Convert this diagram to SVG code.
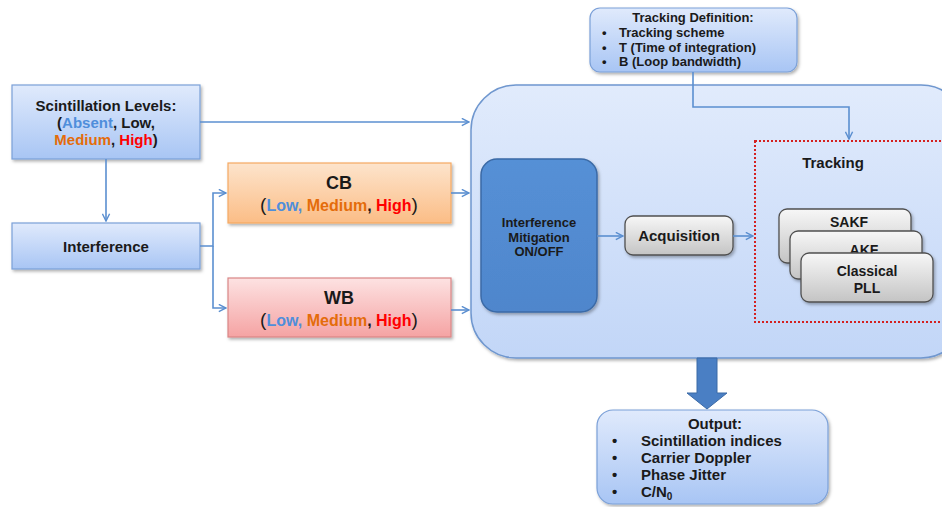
<svg xmlns="http://www.w3.org/2000/svg" width="942" height="507" viewBox="0 0 942 507">
<defs>
<linearGradient id="gBlue" x1="0" y1="0" x2="0" y2="1"><stop offset="0" stop-color="#e0eafc"/><stop offset="1" stop-color="#a8c5f4"/></linearGradient>
<linearGradient id="gMain" x1="0" y1="0" x2="0" y2="1"><stop offset="0" stop-color="#e1ebfc"/><stop offset="1" stop-color="#c2d6f7"/></linearGradient>
<linearGradient id="gOrange" x1="0" y1="0" x2="0" y2="1"><stop offset="0" stop-color="#fde4cc"/><stop offset="1" stop-color="#fbbd86"/></linearGradient>
<linearGradient id="gRed" x1="0" y1="0" x2="0" y2="1"><stop offset="0" stop-color="#fde2e2"/><stop offset="1" stop-color="#f5a3a3"/></linearGradient>
<linearGradient id="gGray" x1="0" y1="0" x2="0" y2="1"><stop offset="0" stop-color="#f7f7f7"/><stop offset="1" stop-color="#c4c4c4"/></linearGradient>
<linearGradient id="gDark" x1="0" y1="0" x2="0" y2="1"><stop offset="0" stop-color="#5590d6"/><stop offset="1" stop-color="#4f86cc"/></linearGradient>
<filter id="sh" x="-10%" y="-10%" width="130%" height="130%"><feDropShadow dx="1.5" dy="2" stdDeviation="1.5" flood-color="#000" flood-opacity="0.3"/></filter>
<marker id="ah" viewBox="0 0 10 10" refX="9" refY="5" markerWidth="9" markerHeight="9" markerUnits="userSpaceOnUse" orient="auto"><path d="M1,1 L9,5 L1,9" fill="none" stroke="#5b8fd0" stroke-width="1.6"/></marker>
</defs>
<style>
text{font-family:"Liberation Sans",Arial,sans-serif;font-weight:bold;fill:#1a1a1a}
.c{text-anchor:middle}
.s15{font-size:15px}
.s14{font-size:14px}
.s13{font-size:13px}
.s16{font-size:16px}
.blue{fill:#4f8edb}
.org{fill:#e46c0a}
.red{fill:#ff0000}
.ln{fill:none;stroke:#5b8fd0;stroke-width:1.6}
</style>

<g id="main-box">
<rect x="471" y="85" width="495" height="273" rx="45" fill="url(#gMain)" stroke="#6f97cf" stroke-width="1.5" filter="url(#sh)"/>
</g>

<g id="tracking-definition">
<rect x="590" y="8" width="207" height="64" rx="10" fill="url(#gBlue)" stroke="#7ba0d8" stroke-width="1.2" filter="url(#sh)"/>
<text class="c s13" x="693" y="22">Tracking Definition:</text>
<text class="s13" x="602" y="37">•</text><text class="s13" x="619" y="37">Tracking scheme</text>
<text class="s13" x="602" y="51.5">•</text><text class="s13" x="619" y="51.5">T (Time of integration)</text>
<text class="s13" x="602" y="66">•</text><text class="s13" x="619" y="66">B (Loop bandwidth)</text>
</g>

<g id="scintillation">
<rect x="12" y="85" width="188" height="74" fill="url(#gBlue)" stroke="#7ba0d8" stroke-width="1.2" filter="url(#sh)"/>
<text class="c s15" x="106" y="111">Scintillation Levels:</text>
<text class="c s15" x="106" y="128">(<tspan class="blue">Absent</tspan>, Low,</text>
<text class="c s15" x="106" y="145"><tspan class="org">Medium</tspan>, <tspan class="red">High</tspan>)</text>
</g>

<g id="interference">
<rect x="12" y="223" width="188" height="46" fill="url(#gBlue)" stroke="#7ba0d8" stroke-width="1.2" filter="url(#sh)"/>
<text class="c s15" x="106" y="252">Interference</text>
</g>

<g id="cb">
<rect x="228" y="163" width="223" height="60" fill="url(#gOrange)" stroke="#f5a962" stroke-width="1.2" filter="url(#sh)"/>
<text class="c" x="339" y="189" font-size="18">CB</text>
<text class="c s16" x="339" y="211"><tspan font-weight="normal" font-size="19">(</tspan><tspan class="blue">Low, </tspan><tspan class="org">Medium</tspan>, <tspan class="red">High</tspan><tspan font-weight="normal" font-size="19">)</tspan></text>
</g>

<g id="wb">
<rect x="228" y="278" width="223" height="59" fill="url(#gRed)" stroke="#d98686" stroke-width="1.2" filter="url(#sh)"/>
<text class="c" x="339" y="304" font-size="18">WB</text>
<text class="c s16" x="339" y="326"><tspan font-weight="normal" font-size="19">(</tspan><tspan class="blue">Low, </tspan><tspan class="org">Medium</tspan>, <tspan class="red">High</tspan><tspan font-weight="normal" font-size="19">)</tspan></text>
</g>

<g id="mitigation">
<rect x="481" y="159" width="116" height="153" rx="16" fill="url(#gDark)" stroke="#3b6aa6" stroke-width="1.5" filter="url(#sh)"/>
<text class="c s13" x="539" y="227">Interference</text>
<text class="c s13" x="539" y="242">Mitigation</text>
<text class="c s13" x="539" y="256">ON/OFF</text>
</g>

<g id="acquisition">
<rect x="625" y="216" width="108" height="39" rx="8" fill="url(#gGray)" stroke="#505050" stroke-width="1.3" filter="url(#sh)"/>
<text class="c s15" x="679" y="241">Acquisition</text>
</g>

<g id="tracking">
<rect x="755" y="141" width="200" height="181" fill="none" stroke="#d42020" stroke-width="2" stroke-dasharray="2,2"/>
<text class="c s15" x="833" y="168">Tracking</text>
</g>

<g id="sakf">
<rect x="779" y="209" width="132" height="54" rx="8" fill="url(#gGray)" stroke="#505050" stroke-width="1.3" filter="url(#sh)"/>
<text class="c s14" x="849" y="227">SAKF</text>
</g>
<g id="akf">
<rect x="790" y="231" width="132" height="48" rx="8" fill="url(#gGray)" stroke="#505050" stroke-width="1.3" filter="url(#sh)"/>
<text class="c s14" x="864" y="255">AKF</text>
</g>
<g id="pll">
<rect x="801" y="253" width="132" height="49" rx="8" fill="url(#gGray)" stroke="#505050" stroke-width="1.3" filter="url(#sh)"/>
<text class="c s14" x="867" y="276">Classical</text>
<text class="c s14" x="867" y="293">PLL</text>
</g>

<g id="output">
<rect x="597" y="410" width="231" height="94" rx="16" fill="url(#gBlue)" stroke="#7ba0d8" stroke-width="1.2" filter="url(#sh)"/>
<text class="c s15" x="715" y="429">Output:</text>
<text class="s15" x="612" y="446">•</text><text class="s15" x="641" y="446">Scintillation indices</text>
<text class="s15" x="612" y="463">•</text><text class="s15" x="641" y="463">Carrier Doppler</text>
<text class="s15" x="612" y="480">•</text><text class="s15" x="641" y="480">Phase Jitter</text>
<text class="s15" x="612" y="497">•</text><text class="s15" x="641" y="497">C/N<tspan font-size="10" dy="3">0</tspan></text>
</g>

<g id="connectors">
<path class="ln" d="M200,122 H469" marker-end="url(#ah)"/>
<path class="ln" d="M106,159 V221" marker-end="url(#ah)"/>
<path class="ln" d="M200,246 H213 V193 H226" marker-end="url(#ah)"/>
<path class="ln" d="M213,246 V308 H226" marker-end="url(#ah)"/>
<path class="ln" d="M451,193 H469" marker-end="url(#ah)"/>
<path class="ln" d="M451,310 H469" marker-end="url(#ah)"/>
<path class="ln" d="M597,236 H623" marker-end="url(#ah)"/>
<path class="ln" d="M733,236 H753" marker-end="url(#ah)"/>
<path class="ln" d="M693,72 V107 H849 V139" marker-end="url(#ah)"/>
<path d="M697,358 H717 V393 H727 L707,409 L687,393 H697 Z" fill="#4a7fc4" stroke="#3b6aa6" stroke-width="1"/>
</g>
</svg>
